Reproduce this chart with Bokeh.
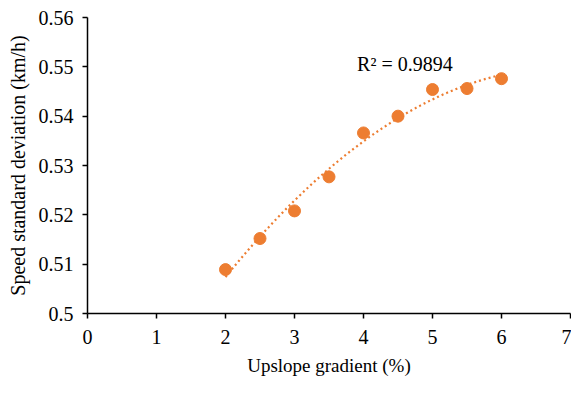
import numpy as np
from bokeh.plotting import figure
from bokeh.models import Range1d, FixedTicker, NumeralTickFormatter, Label
from bokeh.embed import file_html
from bokeh.resources import INLINE

gradient = [2, 2.5, 3, 3.5, 4, 4.5, 5, 5.5, 6]
speed_sd = [0.5089, 0.5152, 0.5208, 0.5277, 0.5366, 0.5400, 0.5454, 0.5456, 0.5476]
x_ticks = [0, 1, 2, 3, 4, 5, 6, 7]
y_ticks = [0.5, 0.51, 0.52, 0.53, 0.54, 0.55, 0.56]
r2_text = "R² = 0.9894"

FONT = "Liberation Serif"
ORANGE = "#ED7D31"

p = figure(width=571, height=378, output_backend="svg", toolbar_location=None,
           x_range=Range1d(0, 7), y_range=Range1d(0.5, 0.56),
           min_border_left=87, min_border_right=1, min_border_top=17, min_border_bottom=62)
p.outline_line_color = None
p.xgrid.visible = False
p.ygrid.visible = False

# quadratic trend line fitted from the data
coef = np.polyfit(gradient, speed_sd, 2)
xs = np.linspace(min(gradient), max(gradient), 100)
ys = np.polyval(coef, xs)
p.line(xs, ys, line_color=ORANGE, line_width=2.2, line_dash="2 3")
p.scatter(gradient, speed_sd, size=12, fill_color=ORANGE, line_color=ORANGE)

p.add_layout(Label(x=4.6, y=0.5505, text=r2_text, text_font=FONT, text_font_size="20px",
                   text_color="#000000", text_align="center", text_baseline="middle"))

for ax in (p.xaxis[0], p.yaxis[0]):
    ax.axis_line_color = "black"
    ax.axis_line_width = 1.5
    ax.major_tick_line_color = "black"
    ax.major_tick_line_width = 1.5
    ax.major_tick_out = 5
    ax.major_tick_in = 0
    ax.minor_tick_line_color = None
    ax.major_label_text_font = FONT
    ax.major_label_text_font_size = "20px"
    ax.major_label_text_color = "black"
    ax.axis_label_text_font = FONT
    ax.axis_label_text_font_style = "normal"
    ax.axis_label_text_color = "black"

p.xaxis.axis_label_text_font_size = "19px"
p.yaxis.axis_label_text_font_size = "20px"
p.xaxis.ticker = FixedTicker(ticks=x_ticks)
p.yaxis.ticker = FixedTicker(ticks=y_ticks)
p.yaxis.formatter = NumeralTickFormatter(format="0.0[0]")
p.xaxis.axis_label = "Upslope gradient (%)"
p.yaxis.axis_label = "Speed standard deviation (km/h)"
p.xaxis.major_label_standoff = 11
p.yaxis.major_label_standoff = 9
p.xaxis.axis_label_standoff = 8
p.yaxis.axis_label_standoff = 7

open("out.html", "w").write(file_html(p, INLINE))
